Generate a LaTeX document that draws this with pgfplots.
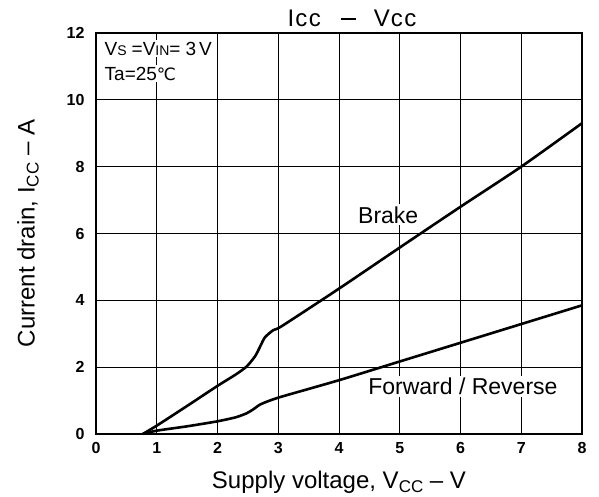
\documentclass[border=0pt]{standalone}
\usepackage{fontspec}
\setmainfont{Liberation Sans}
\newfontfamily\dejavu{DejaVu Sans}
\usepackage{pgfplots}
\usetikzlibrary{calc}
\pgfplotsset{compat=1.18}
\begin{document}
\begin{tikzpicture}
\begin{axis}[
  scale only axis, width=486pt, height=401pt,
  xmin=0, xmax=8, ymin=0, ymax=12,
  xtick={0,...,8}, ytick={0,2,...,12},
  grid=major, major grid style={black, line width=1pt},
  major tick length=0pt,
  axis line style={line width=2.4pt},
  /pgf/number format/assume math mode=true,
  ticklabel style={font=\fontsize{16}{16}\selectfont\bfseries},
  yticklabel style={xshift=-8pt},
  xticklabel style={yshift=-5pt},
  xlabel={Supply voltage, V\raisebox{-4pt}{\fontsize{17}{17}\selectfont CC} -- V},
  ylabel={Current drain, I\raisebox{-4pt}{\fontsize{17}{17}\selectfont CC} -- A},
  every axis x label/.style={at={(axis description cs:0.5,0)}, anchor=base, yshift=-54pt, font=\fontsize{24}{24}\selectfont},
  every axis y label/.style={at={(axis description cs:-0.14,0.5)}, rotate=90, anchor=center, font=\fontsize{24}{24}\selectfont},
  title={\fontsize{24}{24}\selectfont I\kern1pt c\kern1.5pt c\hspace{20pt}\rule[7pt]{15pt}{2.2pt}\hspace{18pt}V\kern1pt c\kern1.5pt c},
  every axis title/.style={at={(axis description cs:0.5,1)}, anchor=base, yshift=6pt, xshift=13pt, inner sep=0pt},
]
\node[fill=white, inner sep=1.5pt, anchor=base west, font=\fontsize{19}{19}\selectfont] at (axis cs:0.115,11.34)
  {V{\fontsize{14}{14}\selectfont S}\hspace{5pt}=V{\fontsize{14}{14}\selectfont IN}=\hspace{5pt}3\hspace{3pt}V};
\node[fill=white, inner sep=1.5pt, anchor=base west, font=\fontsize{19}{19}\selectfont] at (axis cs:0.115,10.59)
  {Ta=25{\dejavu\fontsize{17}{17}\selectfont ℃}};
\node[fill=white, inner sep=2pt, anchor=base, font=\fontsize{23}{23}\selectfont] at (axis cs:4.81,6.31) {Brake};
\node[fill=white, inner sep=2pt, anchor=base, font=\fontsize{23}{23}\selectfont] at (axis cs:6.04,1.17) {Forward / Reverse};
\addplot[black, line width=2.6pt, smooth, tension=0.4] coordinates {
  (0.77,0) (1.0,0.25) (1.5,0.84) (2.0,1.44) (2.3,1.78) (2.48,2.02) (2.62,2.33)
  (2.70,2.61) (2.78,2.89) (2.92,3.11) (3.06,3.23) (4,4.35) (5,5.58) (6,6.8) (7,8.0) (8,9.3)
};
\addplot[black, line width=2.6pt, smooth, tension=0.4] coordinates {
  (0.77,0) (1.0,0.1) (1.5,0.23) (2.0,0.38) (2.3,0.5) (2.48,0.62) (2.59,0.74)
  (2.70,0.88) (2.86,1.0) (3.06,1.12) (4,1.61) (5,2.17) (6,2.73) (7,3.29) (8,3.85)
};
\end{axis}
\path ($(current axis.south west)+(-96pt,-61pt)$) rectangle ($(current axis.north east)+(17pt,33pt)$);
\end{tikzpicture}
\end{document}
